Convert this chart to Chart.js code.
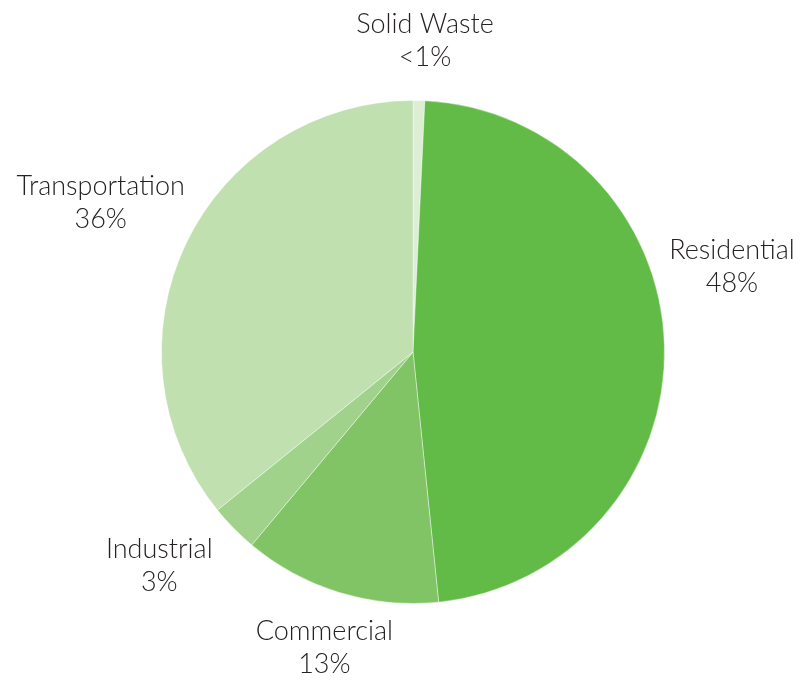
<!DOCTYPE html>
<html>
<head>
<meta charset="utf-8">
<script src="https://cdn.jsdelivr.net/npm/chart.js@4"></script>
<style>
  html, body { margin: 0; padding: 0; background: #fff; }
  #wrap { width: 805px; height: 681px; }
</style>
</head>
<body>
<div id="wrap"><canvas id="pie"></canvas></div>
<script>
// slices, clockwise from 12 o'clock
const categories = ["Solid Waste", "Residential", "Commercial", "Industrial", "Transportation"];
const shares = [0.75, 47.6, 12.7, 3.1, 35.8];
const shareLabels = ["<1%", "48%", "13%", "3%", "36%"];
const colors = ["#dcefd4", "#62bb47", "#80c465", "#a1d28b", "#c0e0b0"];

// where each label sits: angle (deg from top, clockwise) and distance in radii
const labelSpots = [[2.2, 1.242], [75, 1.313], [196.7, 1.226], [230, 1.317], [295.6, 1.377]];

const outerLabels = {
    id: "outerLabels",
    afterDraw(chart){
        const ctx = chart.ctx;
        const arcs = chart.getDatasetMeta(0).data;
        ctx.save();
        ctx.font = "300 27px Lato";
        ctx.fillStyle = "#262223";
        ctx.textAlign = "center";
        ctx.textBaseline = "middle";
        arcs.forEach((arc, i) => {
            const a = labelSpots[i][0] * Math.PI / 180;
            const d = labelSpots[i][1] * arc.outerRadius;
            const x = arc.x + d * Math.sin(a);
            const y = arc.y - d * Math.cos(a);
            ctx.fillText(categories[i], x, y - 16);
            ctx.fillText(shareLabels[i], x, y + 17);
        });
        ctx.restore();
    }
};

new Chart(document.getElementById("pie"), {
    type: "pie",
    data: {
        labels: categories,
        datasets: [{
            data: shares,
            backgroundColor: colors,
            borderColor: "rgba(255,255,255,0.4)",
            borderWidth: 1
        }]
    },
    options: {
        responsive: true,
        maintainAspectRatio: false,
        animation: false,
        layout: { padding: { top: 100, bottom: 77, left: 21, right: 0 } },
        plugins: {
            legend: { display: false },
            tooltip: { enabled: false }
        }
    },
    plugins: [outerLabels]
});
</script>
</body>
</html>
